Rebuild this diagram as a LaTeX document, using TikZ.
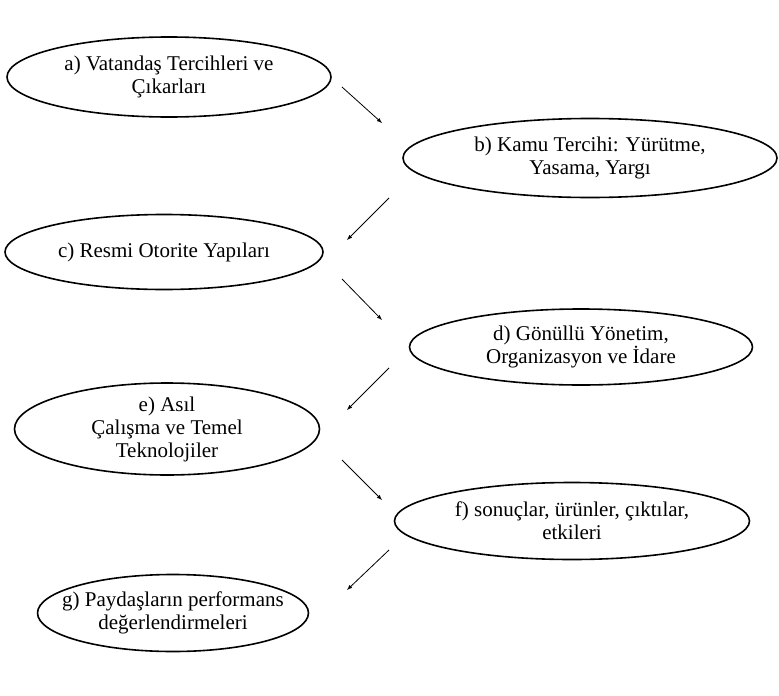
\documentclass[tikz,border=0pt]{standalone}
\usepackage{fontspec}
\setmainfont{Liberation Serif}
\usepackage{tikz}
\usetikzlibrary{positioning}
\usetikzlibrary{shapes.geometric}

\begin{document}
\begin{tikzpicture}[x=1pt, y=-1pt, -latex, on grid, line width=0.8pt, stage/.style ={ellipse, draw, line width=1.6pt, inner xsep=-15pt, inner ysep=0pt, align=center, text=black, font=\fontsize{21}{23}\selectfont}]
		\useasboundingbox (0,0) rectangle (779,696);
		\node[stage, minimum width=324pt, minimum height=80pt] (a) at (169,77) {a) Vatandaş Tercihleri ve\\Çıkarları};
		\node[stage, minimum width=374pt, minimum height=79pt] (b) [below right = 81pt and 421pt of a] {b) Kamu Tercihi: Yürütme,\\Yasama, Yargı};
		\node[stage, minimum width=318pt, minimum height=75pt] (c) [below left = 94pt and 426pt of b] {c) Resmi Otorite Yapıları};
		\node[stage, minimum width=343pt, minimum height=76pt] (d) [below right = 95pt and 417pt of c] {d) Gönüllü Yönetim,\\Organizasyon ve İdare};
		\node[stage, minimum width=305pt, minimum height=78pt] (e) [below left = 82pt and 414pt of d] {e) Asıl\\Çalışma ve Temel\\Teknolojiler};
		\node[stage, minimum width=355pt, minimum height=77pt] (f) [below right = 92pt and 405pt of e] {f) sonuçlar, ürünler, çıktılar,\\etkileri};
		\node[stage, minimum width=263pt, minimum height=77pt] (g) [below left = 92pt and 399pt of f] {g) Paydaşların performans\\değerlendirmeleri};
		% arrow ends
		\coordinate (ab1) at (342,87);  \coordinate (ab2) at (382,123);
		\coordinate (bc1) at (389,198); \coordinate (bc2) at (347,240);
		\coordinate (cd1) at (342,279); \coordinate (cd2) at (382,320);
		\coordinate (de1) at (389,368); \coordinate (de2) at (347,410);
		\coordinate (ef1) at (342,460); \coordinate (ef2) at (382,500);
		\coordinate (fg1) at (389,550); \coordinate (fg2) at (347,590);
		\path (ab1) edge (ab2)
		(bc1) edge (bc2)
		(cd1) edge (cd2)
		(de1) edge (de2)
		(ef1) edge (ef2)
		(fg1) edge (fg2);
\end{tikzpicture}
\end{document}
